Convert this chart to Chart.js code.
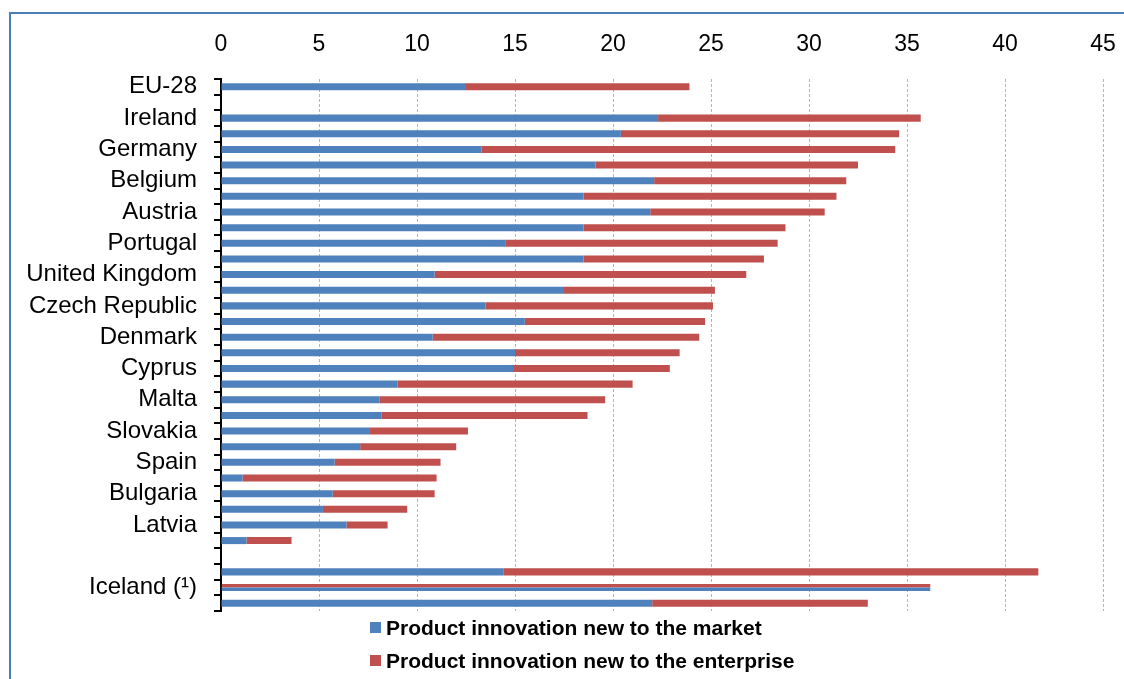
<!DOCTYPE html>
<html>
<head>
<meta charset="utf-8">
<script src="https://cdn.jsdelivr.net/npm/chart.js@4"></script>
<style>
	body { margin: 0; background: #fff; }
	#wrap { position: relative; width: 1124px; height: 679px; overflow: hidden; font-family: "Liberation Sans", Arial, sans-serif; }
	#frame { position: absolute; left: 9px; top: 12px; width: 1200px; height: 800px; border-left: 2px solid #4a7ebb; border-top: 2px solid #4a7ebb; }
	#chart-innovation { position: absolute; left: 0; top: 0; }
	#legend { position: absolute; left: 370px; top: 611px; }
	.legend-row { display: flex; align-items: center; height: 33px; font-weight: bold; font-size: 21px; color: #000; }
	.legend-box { width: 11px; height: 11px; margin-right: 5px; }
</style>
</head>
<body>
<div id="wrap">
	<div id="frame"></div>
	<canvas id="chart-innovation" width="1124" height="679"></canvas>
	<div id="legend"></div>
</div>
<script>
const countries = [
	'EU-28', '',
	'Ireland', 'Luxembourg', 'Germany', 'Finland', 'Belgium', 'Netherlands', 'Austria', 'Sweden',
	'Portugal', 'Italy', 'United Kingdom', 'France', 'Czech Republic', 'Estonia', 'Denmark', 'Croatia',
	'Cyprus', 'Lithuania', 'Malta', 'Slovenia', 'Slovakia', 'Greece', 'Spain', 'Hungary',
	'Bulgaria', 'Poland', 'Latvia', 'Romania',
	'',
	'Serbia', 'Iceland (¹)', 'Norway'
];

// % of turnover, product innovations
const newToMarket = [
	12.5, null,
	22.3, 20.4, 13.3, 19.1, 22.1, 18.5, 21.9, 18.5,
	14.5, 18.5, 10.9, 17.5, 13.5, 15.5, 10.8, 15.0,
	14.9, 9.0, 8.1, 8.2, 7.6, 7.1, 5.8, 1.1,
	5.7, 5.2, 6.4, 1.3,
	null,
	14.4, null, 22.0
];
const newToEnterprise = [
	11.4, null,
	13.4, 14.2, 21.1, 13.4, 9.8, 12.9, 8.9, 10.3,
	13.9, 9.2, 15.9, 7.7, 11.6, 9.2, 13.6, 8.4,
	8.0, 12.0, 11.5, 10.5, 5.0, 4.9, 5.4, 9.9,
	5.2, 4.3, 2.1, 2.3,
	null,
	27.3, null, 11.0
];

// Iceland only has the combined figure
const icelandTotal = 36.2;
const totalOnly = countries.map(c => c === 'Iceland (¹)' ? icelandTotal : null);

const seriesNames = ['Product innovation new to the market', 'Product innovation new to the enterprise'];
const BLUE = '#4f81bd';
const RED = '#c0504d';
const FONT = '"Liberation Sans", Arial, sans-serif';
const BAR_PCT = 0.45;

const chart = new Chart(document.getElementById('chart-innovation'), {
	type: 'bar',
	data: {
		labels: countries,
		datasets: [
			{ label: seriesNames[0], data: newToMarket, backgroundColor: BLUE },
			{ label: seriesNames[1], data: newToEnterprise, backgroundColor: RED },
			{
				// combined value: upper half red (border is capped at half the bar height), lower half blue
				label: 'total', data: totalOnly, backgroundColor: BLUE,
				borderColor: RED, borderSkipped: false,
				borderWidth: { top: 20, left: 0, right: 0, bottom: 0 }
			}
		]
	},
	options: {
		indexAxis: 'y',
		responsive: false,
		animation: false,
		barPercentage: BAR_PCT,
		categoryPercentage: 1,
		layout: { padding: { left: 0, top: 0, right: 21, bottom: 68 } },
		plugins: {
			legend: { display: false },
			tooltip: { enabled: false }
		},
		scales: {
			x: {
				position: 'top',
				stacked: true,
				min: 0,
				max: 45,
				ticks: { stepSize: 5, color: '#000', padding: 21, font: { family: FONT, size: 23 } },
				grid: { color: '#b4b4b4', lineWidth: 1, drawTicks: false },
				border: { display: false, dash: [3, 2] },
				afterFit: (s) => { s.height = 79; s.paddingLeft = 0; s.paddingRight = 0; }
			},
			y: {
				stacked: true,
				offset: true,
				ticks: {
					autoSkip: false,
					color: '#000',
					padding: 17,
					font: { family: FONT, size: 24 },
					callback: (v, i) => i % 2 === 0 ? countries[i] : ''
				},
				grid: { offset: true, drawOnChartArea: false, drawTicks: true, tickLength: 7, color: '#000', lineWidth: 2 },
				border: { display: true, color: '#000', width: 2 },
				afterFit: (s) => { s.width = 221; }
			}
		}
	}
});

// two-row legend under the plot
const legend = document.getElementById('legend');
chart.data.datasets.slice(0, 2).forEach(ds => {
	const row = document.createElement('div');
	row.className = 'legend-row';
	const box = document.createElement('span');
	box.className = 'legend-box';
	box.style.background = ds.backgroundColor;
	row.appendChild(box);
	row.appendChild(document.createTextNode(ds.label));
	legend.appendChild(row);
});
</script>
</body>
</html>
